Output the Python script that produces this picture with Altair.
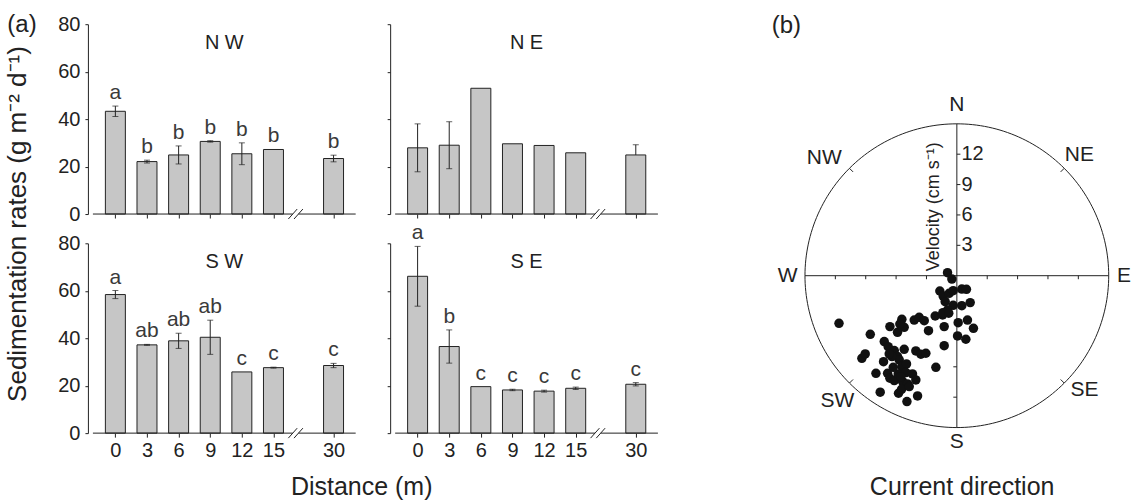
import altair as alt
import pandas as pd
import numpy as np

FONT = "Liberation Sans"
INK = "#222222"
LETTER_INK = "#3a3a3a"

# ---------------- data: panel (a) ----------------
distances = ["0", "3", "6", "9", "12", "15", "30"]
axis_slots = [0, 1, 2, 3, 4, 5, 6.9]   # broken axis: 30 m sits after the break
BREAK = 5.7
XMIN, XMAX = -0.71, 7.6

nw_vals = [43.3, 22.1, 24.9, 30.6, 25.4, 27.2, 23.4]
nw_up = [2.2, 0.6, 3.8, 0.3, 4.6, 0.0, 1.4]
nw_dn = [2.2, 0.6, 3.8, 0.3, 4.6, 0.0, 1.4]
nw_letters = ["a", "b", "b", "b", "b", "b", "b"]

ne_vals = [27.9, 29.0, 53.0, 29.6, 28.9, 25.8, 24.9]
ne_up = [10.1, 9.9, 0.0, 0.0, 0.0, 0.0, 4.3]
ne_dn = [10.1, 9.9, 0.0, 0.0, 0.0, 0.0, 0.0]
ne_letters = ["", "", "", "", "", "", ""]

sw_vals = [58.4, 37.2, 38.9, 40.4, 25.8, 27.6, 28.5]
sw_up = [1.7, 0.2, 3.2, 7.2, 0.0, 0.2, 0.9]
sw_dn = [1.7, 0.2, 3.2, 7.2, 0.0, 0.2, 0.9]
sw_letters = ["a", "ab", "ab", "ab", "c", "c", "c"]

se_vals = [66.1, 36.5, 19.6, 18.2, 17.7, 18.9, 20.6]
se_up = [12.6, 7.0, 0.0, 0.3, 0.4, 0.5, 0.7]
se_dn = [12.6, 7.0, 0.0, 0.3, 0.4, 0.5, 0.7]
se_letters = ["a", "b", "c", "c", "c", "c", "c"]

# ---------------- data: panel (b) ----------------
# current velocity components (cm/s): east (+) / north (+)
vel_east = [-0.92, -0.49, -1.68, -1.35, -0.76, -0.36, 0.49, 0.95, -1.15, -0.36,
            0.49, 1.32, -2.14, -1.41, -0.92, -1.25, 0.13, 1.05, 1.64, -1.25,
            0.07, 0.89, -2.07, -11.64, -8.55, -6.61, -5.43, -5.20, -5.86, -4.21,
            -3.72, -3.22, -2.80, -5.63, -7.17, -6.78, -6.18, -5.86, -5.20, -4.05,
            -3.55, -3.06, -9.38, -9.05, -7.24, -5.69, -5.43, -4.97, -7.99, -6.84,
            -6.61, -6.18, -5.79, -5.36, -4.87, -4.38, -4.05, -7.57, -5.76, -5.46,
            -4.70, -3.88, -4.93, -6.41, -6.28, -5.03, -5.53, -6.68, -1.38, -0.80]
vel_north = [0.30, -0.33, -1.51, -2.01, -1.74, -1.48, -1.32, -1.35, -2.57, -2.93,
             -2.96, -2.66, -3.98, -3.88, -3.39, -5.03, -4.64, -4.38, -5.20, -6.91,
             -5.95, -6.28, -9.05, -4.70, -5.79, -5.03, -4.31, -5.10, -5.59, -4.38,
             -4.11, -4.44, -5.43, -4.77, -6.51, -7.01, -7.40, -7.99, -7.27, -7.43,
             -7.76, -7.66, -8.16, -7.73, -8.49, -8.32, -8.98, -8.72, -9.64, -9.64,
             -10.13, -10.36, -9.70, -10.46, -10.69, -9.70, -10.30, -11.51, -11.61, -11.22,
             -10.95, -11.88, -12.43, -7.99, -9.05, -9.57, -9.97, -7.73, -3.65, -3.70]
vel_ticks = [3, 6, 9, 12]
R = 15
compass = ["N", "NE", "E", "SE", "S", "SW", "W", "NW"]
compass_x = [0.0, 12.1, 16.5, 12.6, 0.0, -11.8, -16.7, -13.1]
compass_y = [16.85, 11.9, 0.0, -11.3, -16.4, -12.4, 0.0, 11.6]

# ---------------- layout ----------------
W, H = 273, 190
PW = 417
PX_DOMAIN = [-26.12, 15.03]
PY_DOMAIN = [6.09, 24.84]


def bar_panel(title, vals, up, dn, letters, ylabels, xlabels, extra=None):
    df = pd.DataFrame({"slot": axis_slots, "dist": distances, "val": vals,
                       "up": up, "dn": dn, "letter": letters})
    df["hi"] = df["val"] + df["up"]
    df["lo"] = df["val"] - df["dn"]
    xs = alt.Scale(domain=[XMIN, XMAX], nice=False, zero=False)
    ys = alt.Scale(domain=[0, 80], nice=False, zero=True)
    xaxis = alt.Axis(values=axis_slots,
                     labelExpr="datum.value > 6 ? '30' : toString(datum.value * 3)",
                     labels=xlabels, title=None, domain=False, grid=False,
                     tickSize=4, tickColor=INK, tickWidth=1,
                     labelFont=FONT, labelFontSize=20, labelColor=INK, labelPadding=3)
    yaxis = alt.Axis(values=[0, 20, 40, 60, 80], labels=ylabels, title=None,
                     grid=False, domain=True, domainColor=INK, domainWidth=1,
                     tickSize=3, tickColor=INK, tickWidth=1,
                     labelFont=FONT, labelFontSize=20, labelColor=INK, labelPadding=5)
    X = lambda f: alt.X(f, scale=xs, axis=xaxis)
    Y = lambda f: alt.Y(f, scale=ys, axis=yaxis)
    base = alt.Chart(df)
    bars = base.mark_bar(size=20, fill="#c6c6c6", stroke=INK, strokeWidth=1).encode(
        x=X("slot:Q"), y=Y("val:Q"))
    err = base.transform_filter("datum.up > 0 || datum.dn > 0").mark_rule(
        color=INK, strokeWidth=1).encode(x=X("slot:Q"), y=Y("lo:Q"), y2="hi:Q")
    cap_hi = base.transform_filter("datum.up > 0").mark_tick(
        orient="horizontal", size=6, thickness=1, color=INK).encode(x=X("slot:Q"), y=Y("hi:Q"))
    cap_lo = base.transform_filter("datum.dn > 0").mark_tick(
        orient="horizontal", size=6, thickness=1, color=INK).encode(x=X("slot:Q"), y=Y("lo:Q"))
    lett = base.transform_filter("datum.letter != ''").mark_text(
        baseline="alphabetic", dy=-7, font=FONT, fontSize=21, color=LETTER_INK).encode(
        x=X("slot:Q"), y=Y("hi:Q"), text="letter:N")
    seg_df = pd.DataFrame({"a": [XMIN, BREAK + 0.09], "b": [BREAK - 0.09, XMAX]})
    segs = alt.Chart(seg_df).mark_rule(color=INK, strokeWidth=1).encode(
        x=X("a:Q"), x2="b:Q", y=alt.value(H))
    sl_df = pd.DataFrame({"a": [BREAK - 0.23, BREAK - 0.05], "b": [BREAK + 0.05, BREAK + 0.23]})
    slashes = alt.Chart(sl_df).mark_rule(color=INK, strokeWidth=1).encode(
        x=X("a:Q"), x2="b:Q", y=alt.value(H + 5), y2=alt.value(H - 5))
    ttl = alt.Chart(pd.DataFrame({"t": [title]})).mark_text(
        font=FONT, fontSize=20, color=INK, baseline="middle").encode(
        text="t:N", x=alt.value(W / 2), y=alt.value(19))
    layers = [bars, err, cap_hi, cap_lo, lett, segs, slashes, ttl]
    if extra:
        layers += extra
    return alt.layer(*layers).properties(width=W, height=H)


def text_at(t, x, y, size, angle=0, align="center"):
    return alt.Chart(pd.DataFrame({"t": [t]})).mark_text(
        font=FONT, fontSize=size, color=INK, angle=angle, align=align,
        baseline="middle").encode(text="t:N", x=alt.value(x), y=alt.value(y))


anchor = alt.Chart(pd.DataFrame({"z": [0]})).mark_rule(opacity=0).encode(
    x=alt.value(-88), x2=alt.value(-88), y=alt.value(-24), y2=alt.value(-24))

nw = bar_panel("N W", nw_vals, nw_up, nw_dn, nw_letters, True, False, extra=[
    anchor,
    text_at("(a)", -66, 1, 24),
    text_at("Sedimentation rates (g m\u207b\u00b2 d\u207b\u00b9)", -70, 200, 26, angle=270),
])
ne = bar_panel("N E", ne_vals, ne_up, ne_dn, ne_letters, False, False)
sw = bar_panel("S W", sw_vals, sw_up, sw_dn, sw_letters, True, True, extra=[
    text_at("Distance (m)", 274, 244, 25),
])
se = bar_panel("S E", se_vals, se_up, se_dn, se_letters, False, True)

# ---------------- polar panel ----------------
pxs = alt.Scale(domain=PX_DOMAIN, nice=False, zero=False)
pys = alt.Scale(domain=PY_DOMAIN, nice=False, zero=False)
PX = lambda f: alt.X(f, scale=pxs, axis=None)
PY = lambda f: alt.Y(f, scale=pys, axis=None)

ang = np.linspace(0, 2 * np.pi, 241)
circ_df = pd.DataFrame({"cx": R * np.cos(ang), "cy": R * np.sin(ang), "i": np.arange(len(ang))})
circle = alt.Chart(circ_df).mark_line(color=INK, strokeWidth=1).encode(
    x=PX("cx:Q"), y=PY("cy:Q"), order="i:Q")

cross_df = pd.DataFrame({"x1": [-R, 0], "x2": [R, 0], "y1": [0, -R], "y2": [0, R]})
cross = alt.Chart(cross_df).mark_rule(color=INK, strokeWidth=1).encode(
    x=PX("x1:Q"), x2="x2:Q", y=PY("y1:Q"), y2="y2:Q")

tk = []
for v in vel_ticks:
    tk.append((0, 0.35, v, v))        # north half: ticks to the right
    tk.append((-0.35, 0, -v, -v))     # south half: ticks to the left
    tk.append((v, v, 0, -0.35))       # east half: ticks downward
    tk.append((-v, -v, 0, -0.35))     # west half: ticks downward
for a in [45, 135, 225, 315]:
    r = np.deg2rad(a)
    tk.append((14.5 * np.cos(r), 15 * np.cos(r), 14.5 * np.sin(r), 15 * np.sin(r)))
tk_df = pd.DataFrame(tk, columns=["x1", "x2", "y1", "y2"])
ticks = alt.Chart(tk_df).mark_rule(color=INK, strokeWidth=1).encode(
    x=PX("x1:Q"), x2="x2:Q", y=PY("y1:Q"), y2="y2:Q")

tl_df = pd.DataFrame({"v": vel_ticks, "lab": [str(v) for v in vel_ticks]})
tick_labels = alt.Chart(tl_df).mark_text(font=FONT, fontSize=20, color=INK, align="left",
                                         baseline="middle").encode(
    x=alt.X("zero:Q", scale=pxs, axis=None), y=PY("v:Q"), text="lab:N").transform_calculate(zero="0.45")

comp_df = pd.DataFrame({"lab": compass, "x": compass_x, "y": compass_y})
comp = alt.Chart(comp_df).mark_text(font=FONT, fontSize=21, color=INK, baseline="middle").encode(
    x=PX("x:Q"), y=PY("y:Q"), text="lab:N")

vt_df = pd.DataFrame({"lab": ["Velocity (cm s\u207b\u00b9)"], "x": [-2.24], "y": [6.81]})
vtitle = alt.Chart(vt_df).mark_text(font=FONT, fontSize=18, color=INK, angle=270,
                                    baseline="middle").encode(
    x=PX("x:Q"), y=PY("y:Q"), text="lab:N")

pts_df = pd.DataFrame({"e": vel_east, "n": vel_north})
pts = alt.Chart(pts_df).mark_circle(size=90, color="#111111", opacity=1).encode(
    x=PX("e:Q"), y=PY("n:Q"))

polar = alt.layer(
    circle, cross, ticks, tick_labels, comp, vtitle, pts,
    text_at("(b)", 94, 2, 24),
    text_at("Current direction", 270, 463, 25),
).properties(width=PW, height=H)

chart = alt.concat(nw, ne, polar, sw, se, columns=3,
                   spacing={"row": 29.3, "column": 29.5},
                   bounds="flush", align="each").properties(
    padding=0, background="white"
).configure_view(stroke=None)

chart.save("out.html", embed_options={"renderer": "svg", "actions": False})
